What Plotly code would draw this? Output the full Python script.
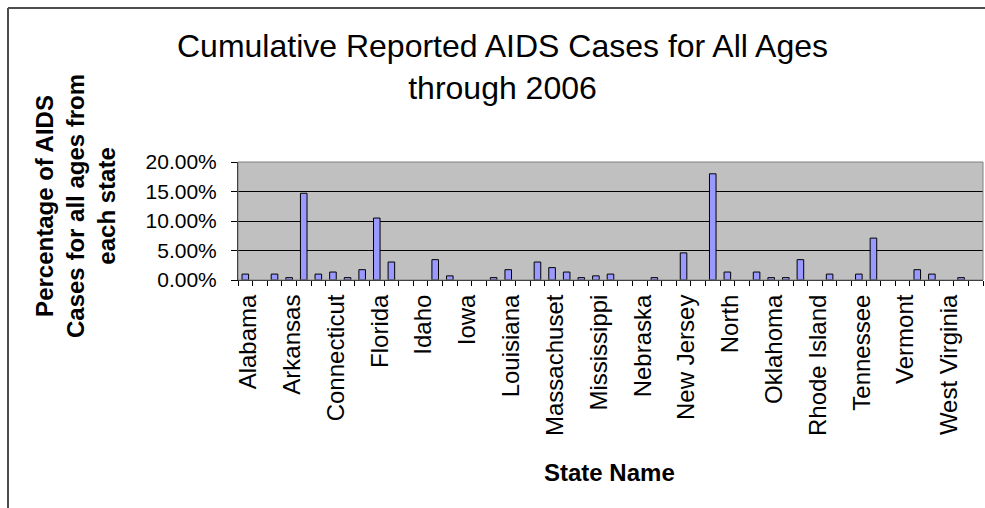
import plotly.graph_objects as go

states = ["Alabama", "Alaska", "Arizona", "Arkansas", "California", "Colorado", "Connecticut",
          "Delaware", "District of Columbia", "Florida", "Georgia", "Hawaii", "Idaho", "Illinois",
          "Indiana", "Iowa", "Kansas", "Kentucky", "Louisiana", "Maine", "Maryland",
          "Massachusetts", "Michigan", "Minnesota", "Mississippi", "Missouri", "Montana",
          "Nebraska", "Nevada", "New Hampshire", "New Jersey", "New Mexico", "New York",
          "North Carolina", "North Dakota", "Ohio", "Oklahoma", "Oregon", "Pennsylvania",
          "Rhode Island", "South Carolina", "South Dakota", "Tennessee", "Texas", "Utah",
          "Vermont", "Virginia", "Washington", "West Virginia", "Wisconsin", "Wyoming"]

# percentage of cumulative AIDS cases (all ages) per state
# (0.0 = no visible bar in the original)
pct = [1.0, 0.0, 1.0, 0.4, 14.7, 1.0, 1.35,
       0.4, 1.75, 10.5, 3.05, 0.0, 0.0, 3.45,
       0.7, 0.0, 0.0, 0.4, 1.75, 0.0, 3.05,
       2.1, 1.35, 0.4, 0.7, 1.0, 0.0,
       0.0, 0.4, 0.0, 4.6, 0.0, 18.0,
       1.35, 0.0, 1.35, 0.4, 0.4, 3.45,
       0.0, 1.0, 0.0, 1.0, 7.1, 0.0,
       0.0, 1.75, 1.0, 0.0, 0.4, 0.0]

# category labels as displayed (every third state, truncated as in the original)
tick_labels = ["Alabama", "", "", "Arkansas", "", "", "Connecticut", "", "", "Florida", "", "",
               "Idaho", "", "", "Iowa", "", "", "Louisiana", "", "", "Massachuset", "", "",
               "Mississippi", "", "", "Nebraska", "", "", "New Jersey", "", "", "North", "", "",
               "Oklahoma", "", "", "Rhode Island", "", "", "Tennessee", "", "", "Vermont", "", "",
               "West Virginia", "", ""]

y_ticks = [0.0, 0.05, 0.10, 0.15, 0.20]

values = [v / 100 if v > 0 else None for v in pct]

FONT = "Liberation Sans, Arial, sans-serif"

W, H = 985, 508
L, R, T, B = 238, 2, 162, 228
PW = W - L - R
PH = H - T - B


def px_x(x):
    return (x - L) / PW


def px_y(y):
    return (H - B - y) / PH


fig = go.Figure()
fig.add_trace(go.Bar(
    x=states, y=values,
    marker=dict(color="#9999FF", line=dict(color="#000000", width=1)),
    hoverinfo="x+y",
))

fig.update_layout(
    width=W, height=H,
    margin=dict(l=L, r=R, t=T, b=B, pad=0),
    paper_bgcolor="white",
    plot_bgcolor="#C0C0C0",
    showlegend=False,
    bargap=0.55,
    font=dict(family=FONT, color="#000000"),
)

fig.update_xaxes(
    type="category",
    tickvals=states, ticktext=tick_labels,
    tickangle=-90,
    tickfont=dict(size=24, family=FONT, color="#000000"),
    showline=True, linecolor="#000000", linewidth=1,
    ticks="outside", tickson="boundaries", ticklen=5, tickcolor="#000000", tickwidth=1,
    showgrid=False, zeroline=False,
    ticklabelstandoff=4,
    ticklabelshift=3,
    range=[-0.5, len(states) - 0.5],
)

fig.update_yaxes(
    range=[0, 0.20],
    tickvals=y_ticks, tickformat=".2%",
    tickfont=dict(size=21, family=FONT, color="#000000"),
    showline=True, linecolor="#000000", linewidth=1,
    ticks="outside", ticklen=6, tickcolor="#000000", tickwidth=1,
    showgrid=True, gridcolor="#000000", gridwidth=1,
    zeroline=False,
    ticklabelstandoff=10,
)

# chart-area frame: only its left and top edges fall inside the cropped picture
frame = dict(color="#4d4d4d", width=2)
fig.add_shape(type="line", xref="paper", yref="paper",
              x0=px_x(8), x1=px_x(8), y0=px_y(H + 20), y1=px_y(8), line=frame)
fig.add_shape(type="line", xref="paper", yref="paper",
              x0=px_x(8), x1=px_x(W + 20), y0=px_y(8), y1=px_y(8), line=frame)
# plot-area border
fig.add_shape(type="rect", xref="paper", yref="paper",
              x0=0, x1=1, y0=0, y1=1,
              line=dict(color="#808080", width=1), fillcolor="rgba(0,0,0,0)", layer="above")

fig.add_annotation(
    text="Cumulative Reported AIDS Cases for All Ages<br>through 2006",
    xref="paper", yref="paper", x=px_x(502), y=px_y(67),
    xanchor="center", yanchor="middle", showarrow=False,
    font=dict(size=32, family=FONT, color="#000000"), align="center",
)
fig.add_annotation(
    text="<b>Percentage of AIDS<br>Cases for all ages from<br>each state</b>",
    xref="paper", yref="paper", x=px_x(75), y=px_y(206),
    xanchor="center", yanchor="middle", showarrow=False, textangle=-90,
    font=dict(size=24, family=FONT, color="#000000"), align="center",
)
fig.add_annotation(
    text="<b>State Name</b>",
    xref="paper", yref="paper", x=px_x(609), y=px_y(472),
    xanchor="center", yanchor="middle", showarrow=False,
    font=dict(size=24, family=FONT, color="#000000"),
)

fig.write_html("out.html", config={"displayModeBar": False})
